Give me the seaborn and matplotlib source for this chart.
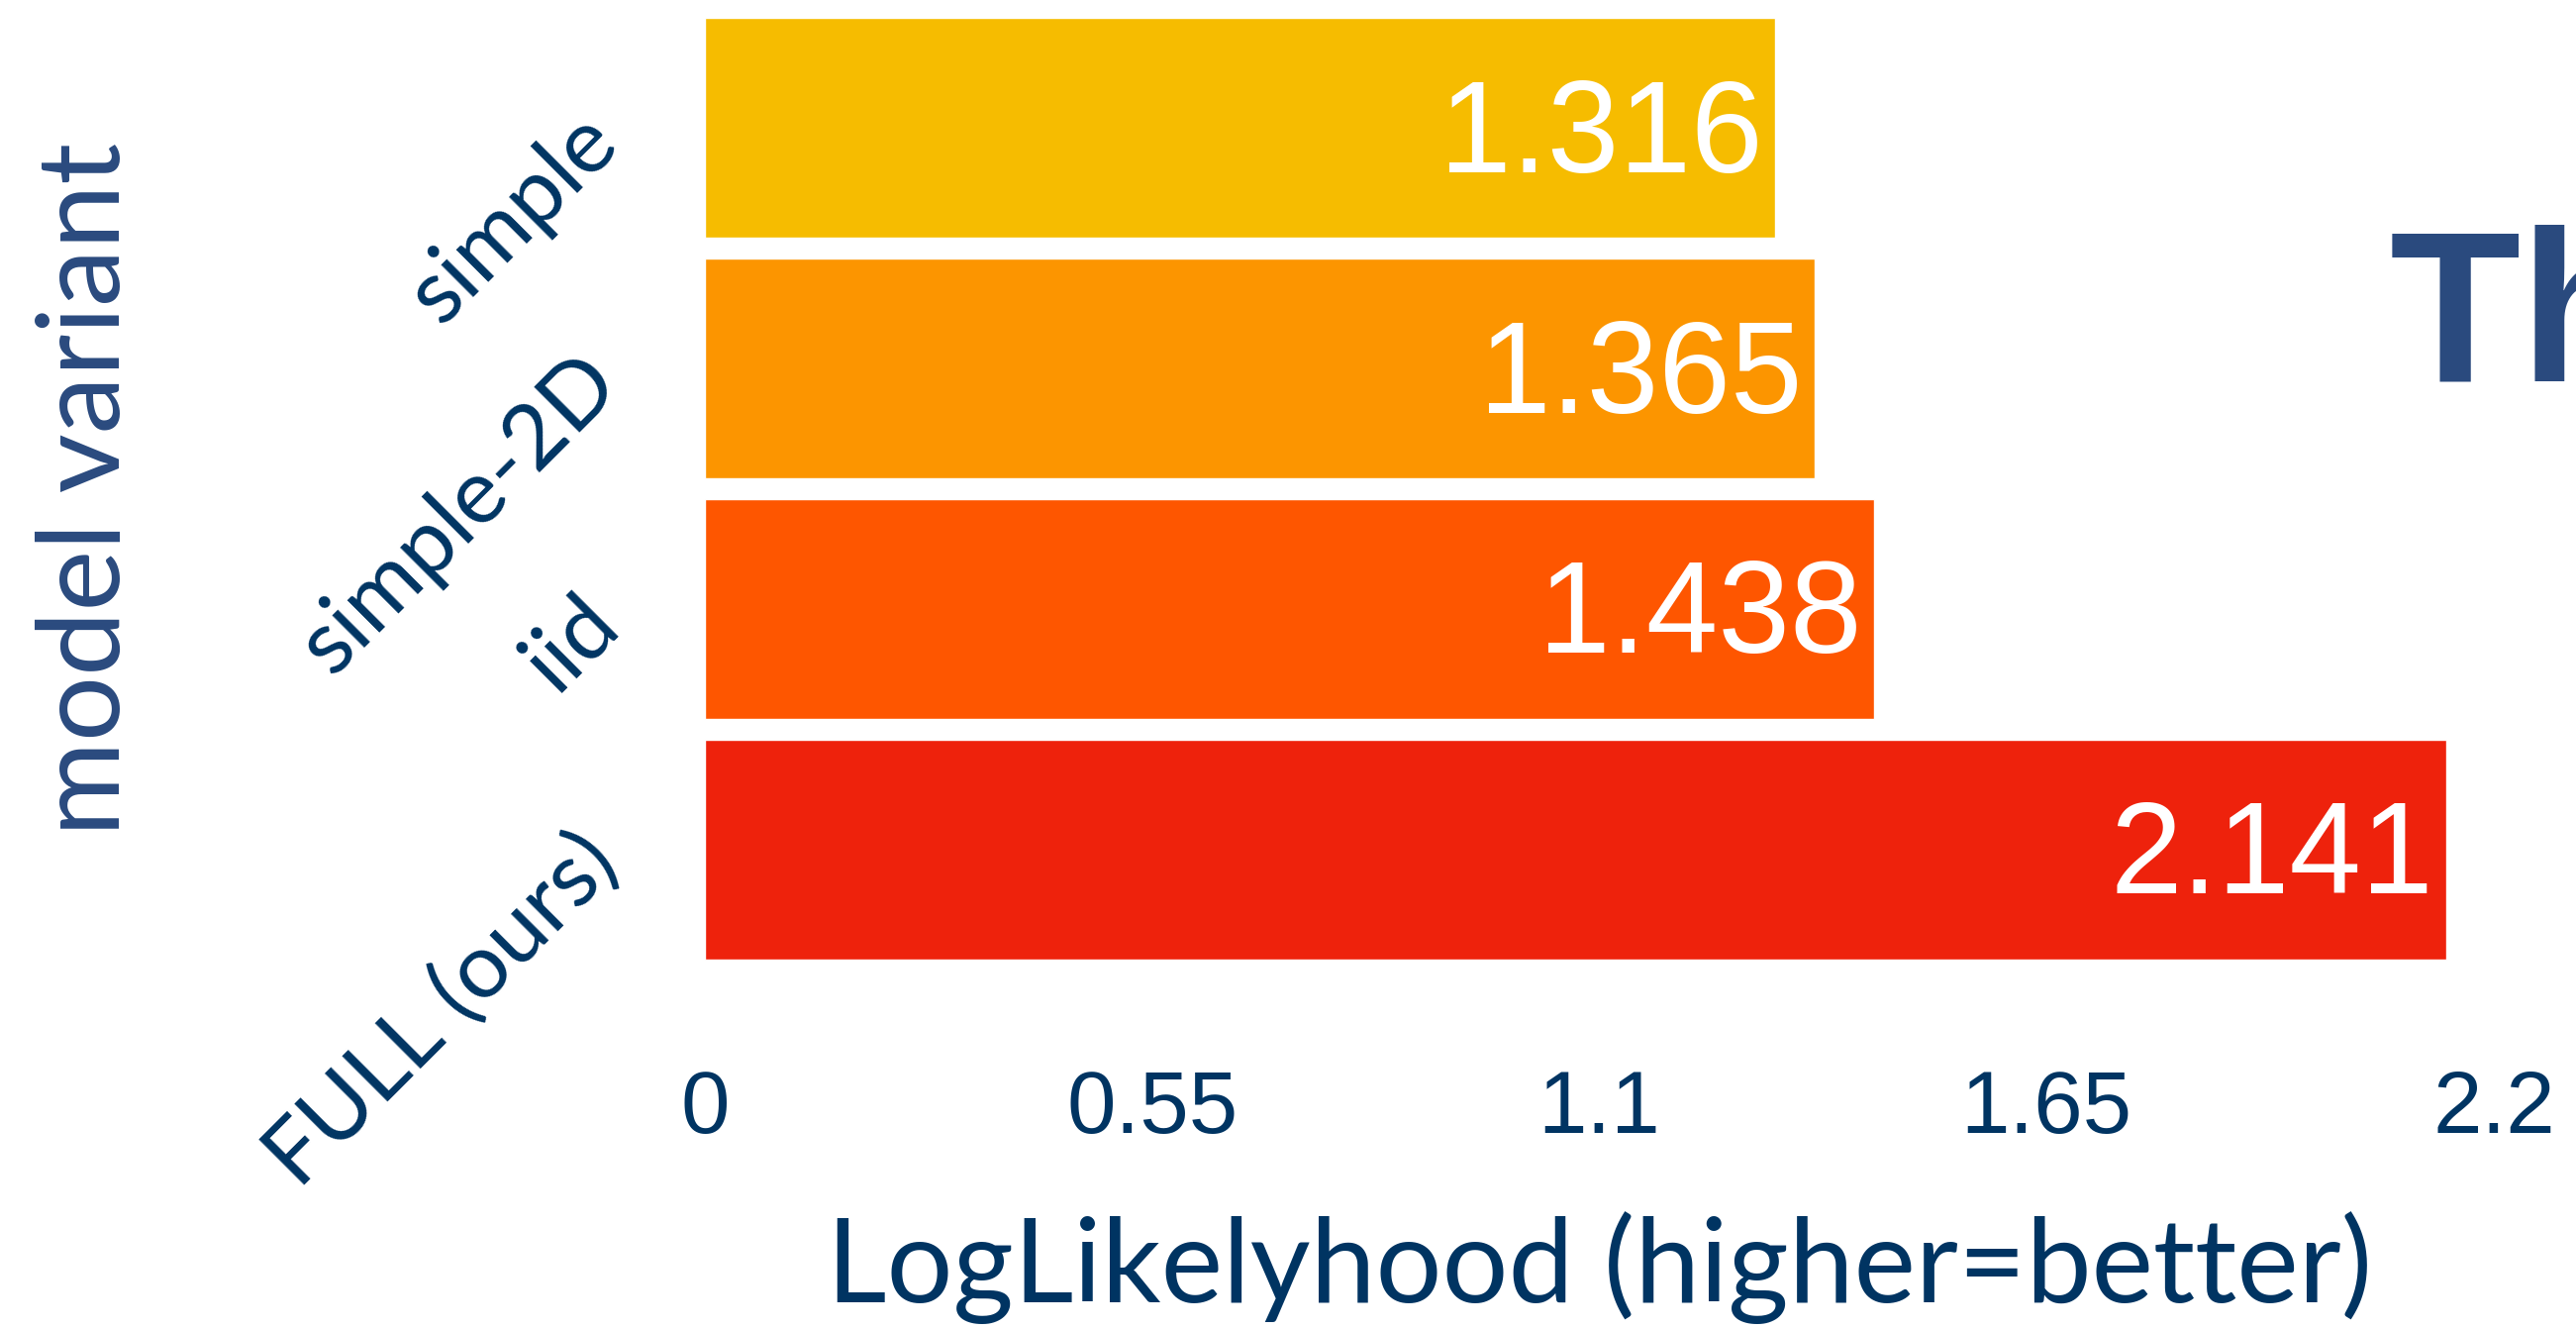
import matplotlib
matplotlib.use("Agg")
import matplotlib.pyplot as plt
import seaborn as sns
import pandas as pd

# ---- data ----
categories = ["simple", "simple-2D", "iid", "FULL (ours)"]
loglik = [1.316, 1.365, 1.438, 2.141]
bar_colors = ["#F6BC00", "#FC9500", "#FE5600", "#EE220C"]
xtick_values = [0, 0.55, 1.1, 1.65, 2.2]
xtick_labels = ["0", "0.55", "1.1", "1.65", "2.2"]

NAVY = "#003462"
LABEL_NAVY = "#2A4A7E"

sns.set_theme(style="white")
plt.rcParams["font.family"] = ["Liberation Sans", "DejaVu Sans"]

W, H = 2602, 1342
fig = plt.figure(figsize=(W / 100, H / 100), dpi=100)
fig.patch.set_facecolor("white")

ax_l, ax_r, ax_t, ax_b = 712, 2519, 8, 979
ax = fig.add_axes([ax_l / W, 1 - ax_b / H, (ax_r - ax_l) / W, (ax_b - ax_t) / H])

df = pd.DataFrame({"variant": categories, "loglik": loglik})
sns.barplot(data=df, x="loglik", y="variant", hue="variant", palette=bar_colors,
            width=0.915, orient="h", legend=False, ax=ax, saturation=1)

ax.set_xlim(0, 2.2)
ax.set_ylim(len(categories) - 0.5, -0.5)

# value labels inside bar ends
for cont in ax.containers:
    texts = ax.bar_label(cont, fmt="%.3f", padding=-9, color="white",
                         fontsize=94, family=["Liberation Sans", "DejaVu Sans"])
    for t in texts:
        t.set_ha("right")
        t.set_va("baseline")
        t.xyann = (-9, -32)

ax.set_xticks(xtick_values)
ax.set_xticklabels(xtick_labels)
ax.tick_params(axis="x", length=0, pad=72, labelsize=64, labelcolor=NAVY)
ax.tick_params(axis="y", length=0, pad=73, labelsize=66, labelcolor=NAVY)
for lbl in ax.get_yticklabels():
    lbl.set_rotation(45)
    lbl.set_rotation_mode("anchor")
    lbl.set_ha("right")
    lbl.set_va("center")
    lbl.set_family(["Lato", "DejaVu Sans"])

for s in ax.spines.values():
    s.set_visible(False)
ax.grid(False)

ax.set_xlabel("LogLikelyhood (higher=better)", fontsize=85, color=NAVY,
              family=["Lato", "DejaVu Sans"])
ax.xaxis.label.set_va("baseline")
ax.xaxis.set_label_coords(0.5, -(1315 - ax_b) / (ax_b - ax_t))

ax.set_ylabel("model variant", fontsize=84, color=LABEL_NAVY,
              family=["Lato", "DejaVu Sans"])
ax.yaxis.label.set_va("baseline")
ax.yaxis.set_label_coords((121 - ax_l) / (ax_r - ax_l), 0.5)

# clipped bold title on the right edge (cut off in the reference too)
fig.text(2414 / W, 1 - 384 / H, "Th", fontsize=156, fontweight="bold",
         color=LABEL_NAVY, ha="left", va="baseline",
         family=["Liberation Sans", "DejaVu Sans"])

fig.savefig("out.png", dpi=100, facecolor="white")
